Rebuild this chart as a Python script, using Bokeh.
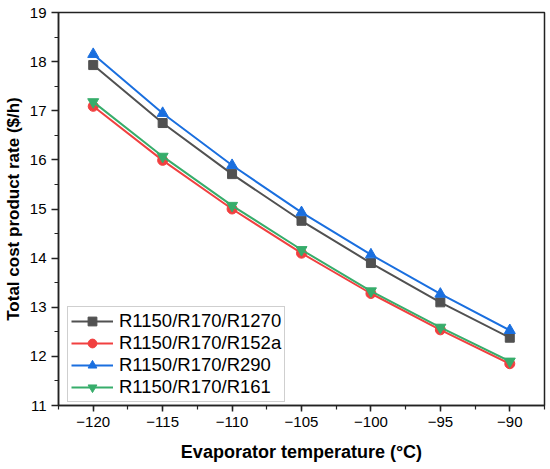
from bokeh.plotting import figure
from bokeh.models import FixedTicker, Range1d, Legend, LegendItem
from bokeh.embed import file_html
from bokeh.resources import INLINE

temps = [-120, -115, -110, -105, -100, -95, -90]
r1270 = [17.93, 16.75, 15.71, 14.76, 13.90, 13.10, 12.38]
r152a = [17.09, 15.99, 15.00, 14.10, 13.28, 12.54, 11.85]
r290 = [18.15, 16.95, 15.89, 14.93, 14.07, 13.27, 12.53]
r161 = [17.18, 16.07, 15.07, 14.17, 13.33, 12.59, 11.90]

names = ["R1150/R170/R1270", "R1150/R170/R152a", "R1150/R170/R290", "R1150/R170/R161"]
series = [r1270, r152a, r290, r161]
colors = ["#515151", "#F14040", "#1A6FDF", "#37AD6B"]
markers = ["square", "circle", "triangle", "inverted_triangle"]
sizes = [9, 10, 11, 11]

x_ticks = [-120, -115, -110, -105, -100, -95, -90]
x_minor = [-122.5 + 2.5 * i for i in range(15)]
y_ticks = [11, 12, 13, 14, 15, 16, 17, 18, 19]
y_minor = [11 + 0.5 * i for i in range(17)]

FONT = "Liberation Sans"

p = figure(width=550, height=469, output_backend="svg", toolbar_location=None,
           x_range=Range1d(-122.5, -87.5), y_range=Range1d(11, 19),
           min_border_left=58, min_border_right=6, min_border_top=12, min_border_bottom=64)
p.grid.visible = False
p.outline_line_color = "#222222"
p.outline_line_width = 1.5
p.background_fill_color = "white"
p.border_fill_color = "white"

p.xaxis.ticker = FixedTicker(ticks=x_ticks, minor_ticks=x_minor)
p.yaxis.ticker = FixedTicker(ticks=y_ticks, minor_ticks=y_minor)
p.xaxis.major_label_overrides = {t: "\u2212" + str(abs(t)) for t in x_ticks}

for ax in (p.xaxis[0], p.yaxis[0]):
    ax.axis_line_width = 1.5
    ax.axis_line_color = "#222222"
    ax.major_tick_line_color = "#222222"
    ax.major_tick_line_width = 1.5
    ax.minor_tick_line_color = "#222222"
    ax.minor_tick_line_width = 1.2
    ax.major_tick_in = 0
    ax.major_tick_out = 7
    ax.minor_tick_in = 0
    ax.minor_tick_out = 4
    ax.major_label_text_font = FONT
    ax.major_label_text_font_size = "15px"
    ax.major_label_text_color = "black"
    ax.axis_label_text_font = FONT
    ax.axis_label_text_font_style = "bold"
    ax.axis_label_text_color = "black"

p.xaxis.axis_label = "Evaporator temperature (\u00b0C)"
p.yaxis.axis_label = "Total cost product rate ($/h)"
p.xaxis.axis_label_text_font_size = "18px"
p.yaxis.axis_label_text_font_size = "17px"
p.xaxis.major_tick_out = 6
p.xaxis.major_label_standoff = 5
p.yaxis.major_label_standoff = 5
p.xaxis.axis_label_standoff = 12
p.yaxis.axis_label_standoff = 4

items = []
for name, ys, c, m, s in zip(names, series, colors, markers, sizes):
    ln = p.line(temps, ys, line_color=c, line_width=2)
    sc = p.scatter(temps, ys, marker=m, size=s, fill_color=c, line_color=c)
    items.append(LegendItem(label=name, renderers=[ln, sc]))

legend = Legend(items=items, location=(9, 3))
legend.border_line_color = "#a0a0a0"
legend.border_line_width = 1.5
legend.padding = 3
legend.spacing = 0
legend.margin = 0
legend.glyph_width = 42
legend.glyph_height = 22
legend.label_height = 22
legend.label_standoff = 6
legend.label_text_font = FONT
legend.label_text_font_size = "18.5px"
legend.label_text_color = "black"
legend.background_fill_alpha = 1
p.add_layout(legend, "center")

open("out.html", "w").write(file_html(p, INLINE))
